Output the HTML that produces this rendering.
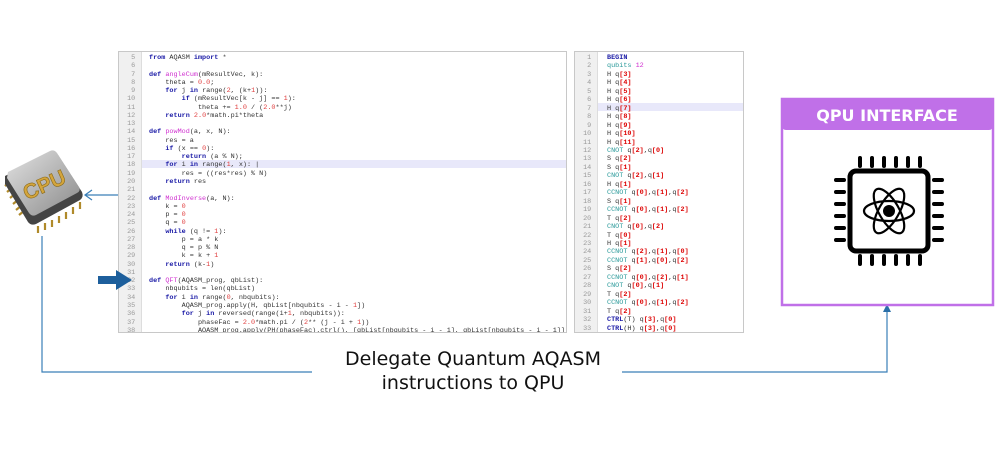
<!DOCTYPE html>
<html><head><meta charset="utf-8"><style>
body{margin:0;width:1001px;height:450px;background:#fff;position:relative;overflow:hidden;font-family:"Liberation Sans",sans-serif}
.panel{position:absolute;border:1px solid #c8c8c8;background:#fff;overflow:hidden}
.gut{position:absolute;left:0;top:0;bottom:0;background:#f0f0f0;border-right:1px solid #ddd}
pre{margin:0;position:absolute;font-family:"Liberation Mono",monospace;font-size:6.8px;color:#333;white-space:pre}
.n{color:#999}.k{color:#1a1aa6;font-weight:bold}.f{color:#d030d0}.r{color:#e04040}.c{color:#2a9a9a}.b{color:#d00;font-weight:bold}
.hl{position:absolute;background:#e8e8fa}
</style></head><body>
<svg width="1001" height="450" style="position:absolute;left:0;top:0">
<defs><linearGradient id="g" x1="0" y1="0" x2="1" y2="1"><stop offset="0" stop-color="#e2e2e2"/><stop offset="1" stop-color="#8a8a8a"/></linearGradient></defs>
<g fill="none" stroke="#3a7fb8" stroke-width="1.2">
<path d="M125 195 H86 M92 190 L85 195 L92 200"/>
<path d="M42 236 V372 H312 M622 372 H887 V310"/>
</g>
<path d="M887 304 L883 312 L891 312 Z" fill="#2a6fa8"/>
<g stroke="#b08a2a" stroke-width="2.2">
<path d="M10 182 l-5 4 M12 188 l-5 4 M15 194 l-5 4 M18 200 l-5 4 M21 206 l-5 4 M24 211 l-5 4 M38 226 l0 7 M45 223 l0 7 M52 220 l0 7 M59 216 l0 7 M66 212 l0 7 M73 207 l0 7 M80 202 l0 7"/>
</g>
<path d="M5 176 L50 153 Q55 151 58 155 L82 192 Q84 197 80 200 L36 224 Q31 226 28 222 L5 184 Z" fill="#444"/>
<path d="M8 172 L50 151 Q54 149 57 153 L79 187 Q81 191 77 193 L36 215 Q32 217 29 213 L7 178 Z" fill="url(#g)"/>
<text x="44" y="192" text-anchor="middle" font-family="Liberation Sans" font-weight="bold" font-size="21" fill="#d4a53c" stroke="#8a6a1a" stroke-width=".6" transform="rotate(-24 44 184)">CPU</text>
<rect x="782" y="99" width="211" height="206" fill="#fff" stroke="#c070e8" stroke-width="2.5"/>
<rect x="782" y="99" width="211" height="31" rx="4" fill="#c070e8"/>
<text x="887" y="121" text-anchor="middle" font-family="DejaVu Sans" font-weight="bold" font-size="16" fill="#fff">QPU INTERFACE</text>
<g stroke="#000" stroke-width="4" stroke-linecap="round">
<path d="M860 158 v8 M872 158 v8 M884 158 v8 M896 158 v8 M908 158 v8 M920 158 v8 M860 256 v8 M872 256 v8 M884 256 v8 M896 256 v8 M908 256 v8 M920 256 v8 M836 180 h8 M836 192 h8 M836 204 h8 M836 216 h8 M836 228 h8 M836 240 h8 M934 180 h8 M934 192 h8 M934 204 h8 M934 216 h8 M934 228 h8 M934 240 h8"/>
</g>
<rect x="850" y="171" width="78" height="80" rx="6" fill="none" stroke="#000" stroke-width="5"/>
<g fill="none" stroke="#000" stroke-width="2.2"><ellipse cx="889" cy="211" rx="25" ry="10"/><ellipse cx="889" cy="211" rx="25" ry="10" transform="rotate(60 889 211)"/><ellipse cx="889" cy="211" rx="25" ry="10" transform="rotate(-60 889 211)"/></g>
<circle cx="889" cy="211" r="6" fill="#000"/>
<text x="473" y="365" text-anchor="middle" font-family="DejaVu Sans" font-size="19" fill="#111">Delegate Quantum AQASM</text>
<text x="473" y="389" text-anchor="middle" font-family="DejaVu Sans" font-size="19" fill="#111">instructions to QPU</text>
</svg>
<div class="panel" style="left:118px;top:51px;width:447px;height:280px">
<div class="gut" style="width:22px"></div>
<div class="hl" style="left:23px;right:0;top:108px;height:8px"></div>
<pre class="n" style="left:4px;top:2px;line-height:8.27px">  5
  6
  7
  8
  9
 10
 11
 12
 13
 14
 15
 16
 17
 18
 19
 20
 21
 22
 23
 24
 25
 26
 27
 28
 29
 30
 31
 32
 33
 34
 35
 36
 37
 38</pre>
<pre style="left:30px;top:2px;line-height:8.27px"><span class="k">from</span> AQASM <span class="k">import</span> *

<span class="k">def</span> <span class="f">angleCum</span>(mResultVec, k):
    theta = <span class="r">0.0</span>;
    <span class="k">for</span> j <span class="k">in</span> range(<span class="r">2</span>, (k+<span class="r">1</span>)):
        <span class="k">if</span> (mResultVec[k - j] == <span class="r">1</span>):
            theta += <span class="r">1.0</span> / (<span class="r">2.0</span>**j)
    <span class="k">return</span> <span class="r">2.0</span>*math.pi*theta

<span class="k">def</span> <span class="f">powMod</span>(a, x, N):
    res = a
    <span class="k">if</span> (x == <span class="r">0</span>):
        <span class="k">return</span> (a % N);
    <span class="k">for</span> i <span class="k">in</span> range(<span class="r">1</span>, x): |
        res = ((res*res) % N)
    <span class="k">return</span> res

<span class="k">def</span> <span class="f">ModInverse</span>(a, N):
    k = <span class="r">0</span>
    p = <span class="r">0</span>
    q = <span class="r">0</span>
    <span class="k">while</span> (q != <span class="r">1</span>):
        p = a * k
        q = p % N
        k = k + <span class="r">1</span>
    <span class="k">return</span> (k-<span class="r">1</span>)

<span class="k">def</span> <span class="f">QFT</span>(AQASM_prog, qbList):
    nbqubits = len(qbList)
    <span class="k">for</span> i <span class="k">in</span> range(<span class="r">0</span>, nbqubits):
        AQASM_prog.apply(H, qbList[nbqubits - i - <span class="r">1</span>])
        <span class="k">for</span> j <span class="k">in</span> reversed(range(i+<span class="r">1</span>, nbqubits)):
            phaseFac = <span class="r">2.0</span>*math.pi / (<span class="r">2</span>** (j - i + <span class="r">1</span>))
            AQASM_prog.apply(PH(phaseFac).ctrl(), [qbList[nbqubits - i - 1], qbList[nbqubits - i - 1]])</pre>
</div>
<div class="panel" style="left:574px;top:51px;width:168px;height:280px">
<div class="gut" style="width:22px"></div>
<div class="hl" style="left:23px;right:0;top:51px;height:8px"></div>
<pre class="n" style="left:4px;top:2px;line-height:8.45px">  1
  2
  3
  4
  5
  6
  7
  8
  9
 10
 11
 12
 13
 14
 15
 16
 17
 18
 19
 20
 21
 22
 23
 24
 25
 26
 27
 28
 29
 30
 31
 32
 33</pre>
<pre style="left:32px;top:2px;line-height:8.45px"><span class="k">BEGIN</span>
<span class="c">qubits</span> <span class="f">12</span>
H q<span class="b">[3]</span>
H q<span class="b">[4]</span>
H q<span class="b">[5]</span>
H q<span class="b">[6]</span>
H q<span class="b">[7]</span>
H q<span class="b">[8]</span>
H q<span class="b">[9]</span>
H q<span class="b">[10]</span>
H q<span class="b">[11]</span>
<span class="c">CNOT</span> q<span class="b">[2]</span>,q<span class="b">[0]</span>
S q<span class="b">[2]</span>
S q<span class="b">[1]</span>
<span class="c">CNOT</span> q<span class="b">[2]</span>,q<span class="b">[1]</span>
H q<span class="b">[1]</span>
<span class="c">CCNOT</span> q<span class="b">[0]</span>,q<span class="b">[1]</span>,q<span class="b">[2]</span>
S q<span class="b">[1]</span>
<span class="c">CCNOT</span> q<span class="b">[0]</span>,q<span class="b">[1]</span>,q<span class="b">[2]</span>
T q<span class="b">[2]</span>
<span class="c">CNOT</span> q<span class="b">[0]</span>,q<span class="b">[2]</span>
T q<span class="b">[0]</span>
H q<span class="b">[1]</span>
<span class="c">CCNOT</span> q<span class="b">[2]</span>,q<span class="b">[1]</span>,q<span class="b">[0]</span>
<span class="c">CCNOT</span> q<span class="b">[1]</span>,q<span class="b">[0]</span>,q<span class="b">[2]</span>
S q<span class="b">[2]</span>
<span class="c">CCNOT</span> q<span class="b">[0]</span>,q<span class="b">[2]</span>,q<span class="b">[1]</span>
<span class="c">CNOT</span> q<span class="b">[0]</span>,q<span class="b">[1]</span>
T q<span class="b">[2]</span>
<span class="c">CCNOT</span> q<span class="b">[0]</span>,q<span class="b">[1]</span>,q<span class="b">[2]</span>
T q<span class="b">[2]</span>
<span class="k">CTRL</span>(T) q<span class="b">[3]</span>,q<span class="b">[0]</span>
<span class="k">CTRL</span>(H) q<span class="b">[3]</span>,q<span class="b">[0]</span></pre>
</div>
<svg width="1001" height="450" style="position:absolute;left:0;top:0;pointer-events:none">
<path d="M98 276 H116 V270 L132 280 L116 290 V284 H98 Z" fill="#1d5f9c"/>
</svg>
</body></html>
